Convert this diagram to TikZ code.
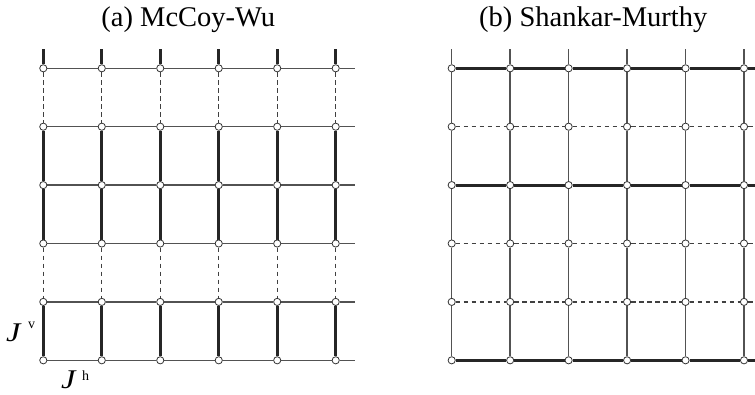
\documentclass[tikz,border=0pt]{standalone}
\usepackage{fontspec}
\setmainfont{Liberation Serif}
\pgfdeclarelayer{bg}
\pgfsetlayers{bg,main}
\begin{document}
\begin{tikzpicture}[x=1pt,y=-1pt,
  site/.style={circle,draw=black!80,fill=white,line width=0.8pt,inner sep=0pt,minimum size=7.2pt},
  thinbond/.style={line width=1.4pt,draw=black!68},
  thickbond/.style={line width=2.8pt,draw=black!85},
  dashbond/.style={line width=1.4pt,draw=black!75,dash pattern=on 4.5pt off 3.5pt},
  title/.style={anchor=base,inner sep=0pt,font=\fontsize{28.5}{30}\selectfont},
  bigJ/.style={anchor=base west,inner sep=0pt,font=\fontsize{27}{27}\selectfont\itshape},
  supJ/.style={anchor=base west,inner sep=0pt,font=\fontsize{14}{14}\selectfont}]
\useasboundingbox (0,0) rectangle (755,394);

% titles
\node[title] (ta) at (188.3,26.7) {(a) McCoy-Wu};
\node[title] (tb) at (593.3,26.7) {(b) Shankar-Murthy};

% sites
\foreach \i in {0,...,5} {
  \foreach \j in {0,...,5} {
    \node[site] (a-\i-\j) at ({43.3+58.48*\i},{68.3+58.4*\j}) {};
    \node[site] (b-\i-\j) at ({451.7+58.46*\i},{68.3+58.4*\j}) {};
  }
  \coordinate (aT-\i) at ({43.3+58.48*\i},49.3);
  \coordinate (bT-\i) at ({451.7+58.46*\i},49.3);
  \coordinate (aE-\i) at (355,{68.3+58.4*\i});
  \coordinate (bE-\i) at (755,{68.3+58.4*\i});
}

\begin{pgfonlayer}{bg}
% ---- (a) McCoy-Wu ----
\foreach \j in {0,...,5} {
  \foreach \i [evaluate=\i as \k using int(\i+1)] in {0,...,4}
    \draw[thinbond] (a-\i-\j) -- (a-\k-\j);
  \draw[thinbond] (a-5-\j) -- (aE-\j);
}
\foreach \i in {0,...,5} {
  \draw[thickbond] (aT-\i) -- (a-\i-0);
  \draw[dashbond] (a-\i-0) -- (a-\i-1);
  \draw[thickbond] (a-\i-1) -- (a-\i-2);
  \draw[thickbond] (a-\i-2) -- (a-\i-3);
  \draw[dashbond] (a-\i-3) -- (a-\i-4);
  \draw[thickbond] (a-\i-4) -- (a-\i-5);
}
% ---- (b) Shankar-Murthy ----
\foreach \j/\s in {0/thickbond,1/dashbond,2/thickbond,3/dashbond,4/dashbond,5/thickbond} {
  \foreach \i [evaluate=\i as \k using int(\i+1)] in {0,...,4}
    \draw[\s] (b-\i-\j) -- (b-\k-\j);
  \draw[\s] (b-5-\j) -- (bE-\j);
}
\foreach \i in {0,...,5} {
  \draw[thinbond] (bT-\i) -- (b-\i-0);
  \foreach \j [evaluate=\j as \k using int(\j+1)] in {0,...,4}
    \draw[thinbond] (b-\i-\j) -- (b-\i-\k);
}
\end{pgfonlayer}

% labels
\node[bigJ] (Jv) at (6,341) {\scalebox{1.2}[1]{J}};
\node[supJ] (Jvs) at (28,328) {v};
\node[bigJ] (Jh) at (61,388) {\scalebox{1.2}[1]{J}};
\node[supJ] (Jhs) at (82,380) {h};
\end{tikzpicture}
\end{document}
